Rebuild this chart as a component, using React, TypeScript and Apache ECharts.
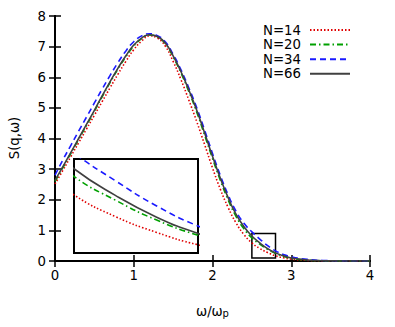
import { useEffect, useRef } from 'react';
import * as echarts from 'echarts';

const omega = [0, 0.1, 0.2, 0.3, 0.4, 0.5, 0.6, 0.7, 0.8, 0.9, 1.0, 1.1, 1.2, 1.3, 1.4, 1.5, 1.6, 1.7, 1.8, 1.9, 2.0, 2.1, 2.2, 2.3, 2.4, 2.5, 2.6, 2.7, 2.8, 2.9, 3.0, 3.2, 3.4, 3.6, 3.8, 4.0];
const sN14 = [2.52, 2.96, 3.41, 3.86, 4.31, 4.76, 5.21, 5.66, 6.1, 6.52, 6.9, 7.18, 7.35, 7.28, 7.02, 6.52, 5.92, 5.25, 4.55, 3.8, 3.04, 2.34, 1.74, 1.24, 0.86, 0.594, 0.41, 0.275, 0.17, 0.105, 0.06, 0.02, 0.005, 0, 0, 0];
const sN20 = [2.6, 3.05, 3.51, 3.97, 4.43, 4.89, 5.37, 5.83, 6.27, 6.67, 7.02, 7.26, 7.38, 7.32, 7.1, 6.67, 6.14, 5.53, 4.86, 4.11, 3.35, 2.63, 1.99, 1.45, 1.05, 0.751, 0.55, 0.38, 0.251, 0.155, 0.09, 0.03, 0.008, 0.002, 0, 0];
const sN34 = [2.8, 3.3, 3.77, 4.24, 4.7, 5.16, 5.62, 6.06, 6.48, 6.86, 7.16, 7.35, 7.42, 7.36, 7.16, 6.75, 6.24, 5.65, 5.0, 4.27, 3.51, 2.79, 2.15, 1.62, 1.23, 0.95, 0.715, 0.5, 0.33, 0.215, 0.135, 0.055, 0.018, 0.005, 0, 0];
const sN66 = [2.63, 3.08, 3.54, 4.0, 4.46, 4.92, 5.4, 5.86, 6.3, 6.7, 7.05, 7.28, 7.39, 7.33, 7.12, 6.7, 6.18, 5.58, 4.92, 4.18, 3.42, 2.7, 2.06, 1.52, 1.12, 0.817, 0.59, 0.405, 0.266, 0.17, 0.1, 0.035, 0.01, 0.002, 0, 0];
const seriesNames = ['N=14', 'N=20', 'N=34', 'N=66'];
const xTicks = [0, 1, 2, 3, 4];
const yTicks = [0, 1, 2, 3, 4, 5, 6, 7, 8];
const zoomX = [2.5, 2.8];
const zoomY = [0.1, 0.9];

const FONT = 'DejaVu Sans';

export default function App() {
  const ref = useRef<HTMLDivElement>(null);
  useEffect(() => {
    if (!ref.current) return;
    const chart = echarts.init(ref.current, null, { renderer: 'svg' });
    const values = [sN14, sN20, sN34, sN66];
    const styles = [
      { color: '#e00000', type: [1.5, 2] as any, width: 1.6 },
      { color: '#00a000', type: [6, 3, 1.5, 3] as any, width: 1.6 },
      { color: '#1a1aff', type: [6, 4] as any, width: 1.6 },
      { color: '#404040', type: 'solid' as any, width: 1.6 },
    ];
    const mk = (arr: number[]) => omega.map((x, i) => [x, arr[i]]);
    const series: any[] = [];
    values.forEach((arr, i) => {
      series.push({
        type: 'line', name: seriesNames[i], xAxisIndex: 0, yAxisIndex: 0,
        data: mk(arr), showSymbol: false, symbol: 'none', smooth: 0.5,
        lineStyle: styles[i], itemStyle: { color: styles[i].color }, z: 2 + i,
        ...(i === 3 ? {
          markArea: {
            silent: true,
            label: { show: false },
            itemStyle: { color: 'rgba(0,0,0,0)', borderColor: '#000', borderWidth: 1.5 },
            data: [[{ coord: [zoomX[0], zoomY[1]] }, { coord: [zoomX[1], zoomY[0]] }]],
          },
        } : {}),
      });
    });
    values.forEach((arr, i) => {
      series.push({
        type: 'line', name: seriesNames[i] + ' inset', xAxisIndex: 2, yAxisIndex: 2,
        data: mk(arr), showSymbol: false, symbol: 'none', smooth: 0.5,
        lineStyle: styles[i], itemStyle: { color: styles[i].color }, z: 12 + i, clip: true,
      });
    });
    const axisLine = { show: true, lineStyle: { color: '#000', width: 2 } };
    const tick = { show: true, inside: true, length: 6, lineStyle: { color: '#000', width: 1.5 } };
    const label = { fontFamily: FONT, fontSize: 13.3, color: '#000' };
    chart.setOption({
      animation: false,
      backgroundColor: '#fff',
      grid: [
        { left: 55, right: 25, top: 16, bottom: 66, show: false },
        { left: 74, top: 159, width: 124, height: 94, show: true, borderColor: '#000', borderWidth: 2, backgroundColor: '#fff', z: 10 },
      ],
      xAxis: [
        { type: 'value', gridIndex: 0, min: xTicks[0], max: xTicks[xTicks.length - 1], interval: 1, position: 'bottom', axisLine, axisTick: tick, splitLine: { show: false }, axisLabel: { ...label, margin: 8 } },
        { type: 'value', gridIndex: 0, min: xTicks[0], max: xTicks[xTicks.length - 1], interval: 1, position: 'top', axisLine, axisTick: tick, splitLine: { show: false }, axisLabel: { show: false } },
        { type: 'value', gridIndex: 1, min: zoomX[0], max: zoomX[1], show: false, splitLine: { show: false } },
      ],
      yAxis: [
        { type: 'value', gridIndex: 0, min: yTicks[0], max: yTicks[yTicks.length - 1], interval: 1, position: 'left', axisLine, axisTick: tick, splitLine: { show: false }, axisLabel: { ...label, margin: 9 } },
        { type: 'value', gridIndex: 0, min: yTicks[0], max: yTicks[yTicks.length - 1], interval: 1, position: 'right', axisLine, axisTick: tick, splitLine: { show: false }, axisLabel: { show: false } },
        { type: 'value', gridIndex: 1, min: zoomY[0], max: zoomY[1], show: false, splitLine: { show: false } },
      ],
      legend: {
        data: seriesNames,
        orient: 'vertical', align: 'right', right: 44, top: 23.5,
        itemWidth: 40, itemHeight: 14, itemGap: 1.6, padding: 0,
        itemStyle: { opacity: 0 },
        textStyle: { fontFamily: FONT, fontSize: 13.3, color: '#000', padding: [0, 4, 0, 0] },
      },
      graphic: [
        { type: 'text', x: 14, y: 138, rotation: Math.PI / 2, style: { text: 'S(q,ω)', fontFamily: FONT, fontSize: 13.3, fill: '#000', textAlign: 'center', textVerticalAlign: 'middle' } },
        { type: 'text', x: 196, y: 305, style: { text: 'ω/ω', fontFamily: FONT, fontSize: 13.3, fill: '#000', textAlign: 'left', textVerticalAlign: 'alphabetic' } },
        { type: 'text', x: 222.5, y: 308, style: { text: 'p', fontFamily: FONT, fontSize: 10, fill: '#000', textAlign: 'left', textVerticalAlign: 'alphabetic' } },
      ],
      series,
    });
    return () => chart.dispose();
  }, []);
  return <div ref={ref} style={{ position: 'fixed', left: 0, top: 0, width: 395, height: 327 }} />;
}
